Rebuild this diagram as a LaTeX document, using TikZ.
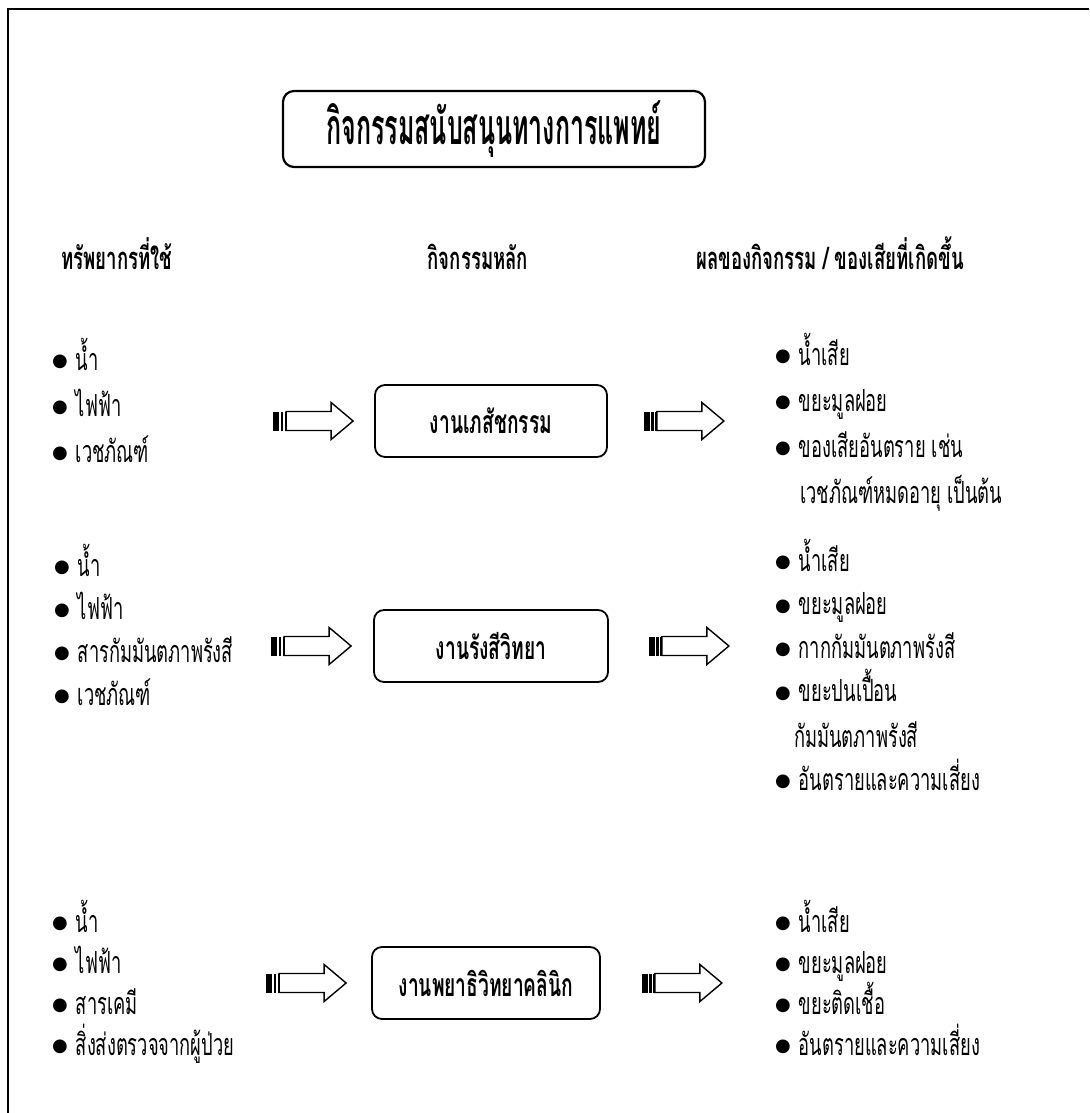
\documentclass[tikz,border=0pt]{standalone}
\usepackage{fontspec}
\usetikzlibrary{calc}
\newfontfamily\thai[Script=Thai,FakeStretch=0.6]{Loma}
\newfontfamily\thaititle[Script=Thai,FakeStretch=0.5]{Loma}
\newfontfamily\sym{DejaVu Sans}
\newcommand{\bul}{\raisebox{3.5pt}{\sym\fontsize{18}{18}\selectfont ●}\hspace{8pt}}
\tikzset{
  frameline/.style={line width=2pt},
  titlebox/.style={draw, rounded corners=11pt, line width=2.2pt, minimum width=422pt, minimum height=76pt,
    font=\thaititle\bfseries\fontsize{50}{50}\selectfont},
  mainbox/.style={draw, rounded corners=10pt, line width=1.8pt, minimum height=72pt,
    font=\thai\bfseries\fontsize{32}{32}\selectfont},
  head/.style={anchor=base, inner sep=0pt, font=\thai\bfseries\fontsize{31}{31}\selectfont},
  item/.style={anchor=base west, inner sep=0pt, text height=22pt, text depth=7pt,
    font=\thai\fontsize{30.5}{30.5}\selectfont},
  pics/stripedarrow/.style={code={
    \fill (0,-9.5) rectangle (6,9.5);
    \fill (7.5,-9.5) rectangle (10,9.5);
    \fill (11.5,-9.5) rectangle (13,9.5);
    \draw[line width=1.4pt, line join=miter] (13,-9.5) -- (58,-9.5) -- (58,-18.5) -- (80,0) -- (58,18.5) -- (58,9.5) -- (13,9.5) -- cycle;
  }}
}
\begin{document}
\begin{tikzpicture}[x=1pt,y=-1pt]
\useasboundingbox (0,0) rectangle (1089,1113);
\fill[white] (0,0) rectangle (1089,1113);
% outer frame (top and left edges)
\coordinate (fbl) at (8,1113);
\coordinate (ftl) at (8,9);
\coordinate (ftr) at (1089,9);
\draw[frameline] (fbl) -- (ftl) -- (ftr);

% title
\node[titlebox] (title) at (494,129) {กิจกรรมสนับสนุนทางการแพทย์};

% column headings
\node[head] (h1) at (117,269) {ทรัพยากรที่ใช้};
\node[head] (h2) at (478,269) {กิจกรรมหลัก};
\node[head] (h3) at (830,269) {ผลของกิจกรรม / ของเสียที่เกิดขึ้น};

% row 1
\node[mainbox, minimum width=232pt] (b1) at (491,421) {งานเภสัชกรรม};
\foreach \t [count=\i] in {น้ำ, ไฟฟ้า, เวชภัณฑ์}
  \node[item] (l1-\i) at (52,{370+46*(\i-1)}) {\bul\t};
\foreach \t [count=\i] in {น้ำเสีย, ขยะมูลฝอย, ของเสียอันตราย เช่น}
  \node[item] (r1-\i) at (775,{365+46*(\i-1)}) {\bul\t};
\node[item] (r1-4) at (800,503) {เวชภัณฑ์หมดอายุ เป็นต้น};
\pic at ($(b1.west)+(-101,0)$) {stripedarrow};
\pic at ($(b1.east)+(36,0)$) {stripedarrow};

% row 2
\node[mainbox, minimum width=234pt] (b2) at (491,646) {งานรังสีวิทยา};
\foreach \t [count=\i] in {น้ำ, ไฟฟ้า, สารกัมมันตภาพรังสี, เวชภัณฑ์}
  \node[item] (l2-\i) at (54,{576+43*(\i-1)}) {\bul\t};
\foreach \t [count=\i] in {น้ำเสีย, ขยะมูลฝอย, กากกัมมันตภาพรังสี, ขยะปนเปื้อน}
  \node[item] (r2-\i) at (775,{571+43.5*(\i-1)}) {\bul\t};
\node[item] (r2-5) at (794,747) {กัมมันตภาพรังสี};
\node[item] (r2-6) at (775,790) {\bul อันตรายและความเสี่ยง};
\pic at ($(b2.west)+(-102,0)$) {stripedarrow};
\pic at ($(b2.east)+(40,0)$) {stripedarrow};

% row 3
\node[mainbox, minimum width=228pt] (b3) at (486,983) {งานพยาธิวิทยาคลินิก};
\foreach \t [count=\i] in {น้ำ, ไฟฟ้า, สารเคมี, สิ่งส่งตรวจจากผู้ป่วย}
  \node[item] (l3-\i) at (52,{932+41*(\i-1)}) {\bul\t};
\foreach \t [count=\i] in {น้ำเสีย, ขยะมูลฝอย, ขยะติดเชื้อ, อันตรายและความเสี่ยง}
  \node[item] (r3-\i) at (775,{932+41*(\i-1)}) {\bul\t};
\pic at ($(b3.west)+(-105,0)$) {stripedarrow};
\pic at ($(b3.east)+(41,0)$) {stripedarrow};
\end{tikzpicture}
\end{document}
